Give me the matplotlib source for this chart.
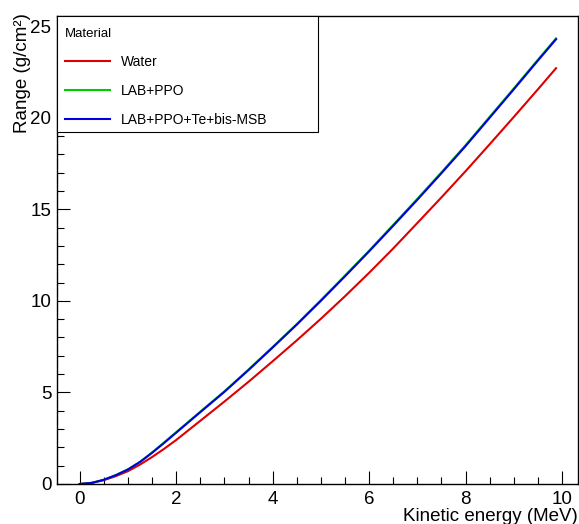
import matplotlib
matplotlib.use("Agg")
import matplotlib.pyplot as plt
from matplotlib.patches import Rectangle
from matplotlib.ticker import MultipleLocator

plt.rcParams['font.family'] = ['Liberation Sans', 'DejaVu Sans']

# kinetic energy (MeV)
energy = [0, 0.25, 0.5, 0.75, 1.0, 1.25, 1.5, 1.75, 2.0, 2.5, 3.0, 3.5, 4.0,
          4.5, 5.0, 5.5, 6.0, 6.5, 7.0, 7.5, 8.0, 8.5, 9.0, 9.5, 9.875]

# range (g/cm^2)
water = [0, 0.06, 0.21, 0.43, 0.70, 1.06, 1.47, 1.92, 2.40, 3.45, 4.50, 5.58,
         6.70, 7.84, 9.02, 10.25, 11.53, 12.86, 14.25, 15.65, 17.08, 18.55,
         20.04, 21.55, 22.70]
lab_ppo = [0, 0.06, 0.23, 0.49, 0.80, 1.21, 1.72, 2.27, 2.83, 3.95, 5.06, 6.25,
           7.48, 8.73, 10.04, 11.38, 12.74, 14.15, 15.57, 17.02, 18.50, 20.05,
           21.60, 23.17, 24.33]
lab_ppo_te = [0, 0.06, 0.23, 0.48, 0.79, 1.20, 1.70, 2.24, 2.80, 3.92, 5.03, 6.22,
              7.45, 8.70, 10.00, 11.34, 12.70, 14.10, 15.52, 16.97, 18.45, 20.00,
              21.55, 23.12, 24.28]

fig = plt.figure(figsize=(5.79, 5.24), dpi=100)
ax = fig.add_axes([57 / 579, 1 - 484 / 524, 521 / 579, 468 / 524])

ax.plot(energy, water, color='#dd0000', lw=1.5, label='Water')
ax.plot(energy, lab_ppo, color='#00cc00', lw=1.5, label='LAB+PPO')
ax.plot(energy, lab_ppo_te, color='#0000dd', lw=1.5, label='LAB+PPO+Te+bis-MSB')

ax.set_xlim(-0.47, 10.33)
ax.set_ylim(0, 25.55)

ax.xaxis.set_major_locator(MultipleLocator(2))
ax.xaxis.set_minor_locator(MultipleLocator(0.5))
ax.yaxis.set_major_locator(MultipleLocator(5))
ax.yaxis.set_minor_locator(MultipleLocator(1))
ax.tick_params(which='both', direction='in', width=0.8, labelsize=13.5,
               top=False, right=False)
ax.tick_params(which='major', length=9.5)
ax.tick_params(which='minor', length=4.7)
ax.tick_params(axis='x', pad=5)
ax.tick_params(axis='y', pad=4)
for s in ax.spines.values():
    s.set_linewidth(1.0)

ax.set_xlabel('Kinetic energy (MeV)', fontsize=13.5, loc='right')
ax.xaxis.set_label_coords(1.0, -0.052)
ax.set_ylabel('Range (g/cm²)', fontsize=13.5, loc='top')
ax.yaxis.set_label_coords(-0.049, 1.006)

# legend box (ROOT style TLegend)
ax.add_patch(Rectangle((0, 1 - 116 / 468), 261 / 521, 116 / 468,
                       transform=ax.transAxes, facecolor='white',
                       edgecolor='black', lw=0.8, zorder=4.9, clip_on=False))
leg = ax.legend(loc='upper left', bbox_to_anchor=(0, 1 - 4 / 468, 261 / 521, 0),
                mode='expand', borderaxespad=0, frameon=False,
                title='Material', title_fontsize=9.5, fontsize=10,
                alignment='left', handlelength=3.25, handletextpad=0.72,
                labelspacing=1.08, borderpad=0.6)

fig.savefig('out.png', dpi=100)
